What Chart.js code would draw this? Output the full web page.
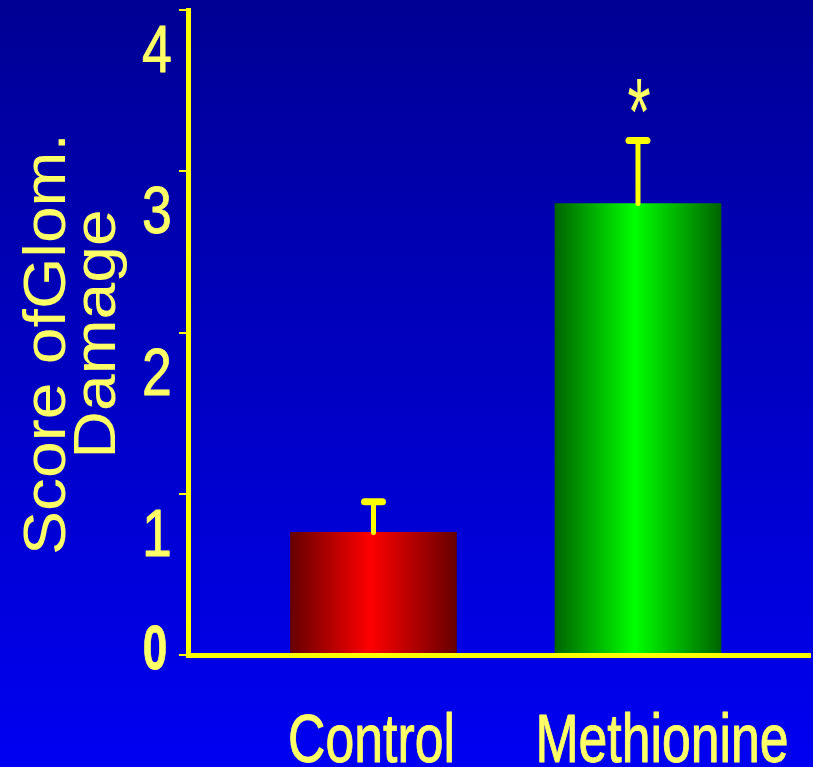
<!DOCTYPE html>
<html><head><meta charset="utf-8">
<script src="https://cdn.jsdelivr.net/npm/chart.js@4/dist/chart.umd.min.js"></script>
<style>html,body{margin:0;padding:0;background:#0000c0;overflow:hidden}#wrap{width:813px;height:767px;position:relative}</style>
</head><body><div id="wrap"><canvas id="c" width="813" height="767"></canvas></div>
<script>
// ---- data ----
const categories = ['Control', 'Methionine'];
const meanScores = [0.76, 2.80];
const errorUp = [0.19, 0.39];
const significant = [false, true];
const yTickValues = [0, 1, 2, 3, 4];
const yTitleLines = ['Score ofGlom.', 'Damage'];

// ---- styles ----
const TEXT = '#ffff66';
const AXIS = '#ffff00';
const FONT = '"Liberation Sans", Arial, sans-serif';
const barPalette = [
  ['#660000', '#ff0000'],
  ['#006400', '#00ff00']
];
const BAR_W = 166;
const catLabelShift = [-2, 24];

function barFill(context) {
  const chart = context.chart;
  const i = context.dataIndex;
  const pal = barPalette[i % barPalette.length];
  if (!chart.chartArea || !chart.scales.x) return pal[1];
  const cx = chart.scales.x.getPixelForValue(i + 1);
  const g = chart.ctx.createLinearGradient(cx - BAR_W / 2, 0, cx + BAR_W / 2, 0);
  g.addColorStop(0, pal[0]);
  g.addColorStop(0.48, pal[1]);
  g.addColorStop(1, pal[0]);
  return g;
}

const bgPlugin = {
  id: 'bg',
  beforeDraw(chart) {
    const { ctx, width, height } = chart;
    ctx.save();
    const g = ctx.createLinearGradient(0, 0, 0, height);
    g.addColorStop(0, 'rgb(0,0,148)');
    g.addColorStop(1, 'rgb(0,0,242)');
    ctx.fillStyle = g;
    ctx.fillRect(0, 0, width, height);
    ctx.restore();
  }
};

const errPlugin = {
  id: 'err',
  afterDatasetsDraw(chart) {
    const { ctx } = chart;
    const meta = chart.getDatasetMeta(0);
    const ys = chart.scales.y;
    ctx.save();
    ctx.strokeStyle = AXIS;
    ctx.lineCap = 'round';
    meta.data.forEach((bar, i) => {
      const x = bar.x;
      const yTop = ys.getPixelForValue(meanScores[i] + errorUp[i]);
      const yBar = ys.getPixelForValue(meanScores[i]);
      ctx.lineWidth = 5;
      ctx.beginPath(); ctx.moveTo(x, yBar); ctx.lineTo(x, yTop); ctx.stroke();
      ctx.lineWidth = 7;
      ctx.beginPath(); ctx.moveTo(x - 9, yTop); ctx.lineTo(x + 9, yTop); ctx.stroke();
      if (significant[i]) {
        ctx.fillStyle = TEXT;
        ctx.font = '100px ' + FONT;
        const m = ctx.measureText('*');
        const h = m.actualBoundingBoxAscent + m.actualBoundingBoxDescent;
        const w = m.actualBoundingBoxLeft + m.actualBoundingBoxRight;
        const sy = 34 / h, sx = 22 / w;
        const cy = yTop - 45;
        ctx.save();
        ctx.translate(x + 1, cy);
        ctx.scale(sx, sy);
        ctx.textAlign = 'left';
        ctx.textBaseline = 'alphabetic';
        const ox = -(m.actualBoundingBoxRight - m.actualBoundingBoxLeft) / 2;
        const oy = (m.actualBoundingBoxAscent - m.actualBoundingBoxDescent) / 2;
        ctx.fillText('*', ox, oy);
        ctx.restore();
      }
    });
    ctx.restore();
  }
};

function boldText(ctx, t, lw) {
  ctx.fillText(t, 0, 0);
  ctx.lineWidth = lw;
  ctx.lineJoin = 'round';
  ctx.strokeStyle = TEXT;
  ctx.strokeText(t, 0, 0);
}

const textPlugin = {
  id: 'texts',
  afterDraw(chart) {
    const { ctx } = chart;
    const ys = chart.scales.y;
    const meta = chart.getDatasetMeta(0);
    ctx.save();
    ctx.fillStyle = TEXT;
    ctx.textBaseline = 'alphabetic';
    ctx.textAlign = 'center';
    // y tick labels
    yTickValues.forEach(v => {
      const py = ys.getPixelForValue(v);
      ctx.save();
      if (v === 0) {
        ctx.font = 'bold 63px ' + FONT;
        ctx.translate(155, py + 14);
        ctx.scale(0.7, 1);
        boldText(ctx, String(v), 0.8);
      } else {
        ctx.font = '67px ' + FONT;
        ctx.translate(157, py + 62);
        ctx.scale(0.8, 1);
        boldText(ctx, String(v), 0.9);
      }
      ctx.restore();
    });
    // y title
    ctx.font = '66px ' + FONT;
    const tpos = [[65, 344], [115, 334]];
    yTitleLines.forEach((t, k) => {
      ctx.save();
      ctx.translate(tpos[k][0], tpos[k][1]);
      ctx.rotate(-Math.PI / 2);
      ctx.scale(1, 0.89);
      ctx.fillText(t, 0, 0);
      ctx.restore();
    });
    // category labels
    ctx.font = '69px ' + FONT;
    meta.data.forEach((bar, i) => {
      ctx.save();
      ctx.translate(bar.x + catLabelShift[i], 762);
      ctx.scale(0.75, 1);
      boldText(ctx, categories[i], 1.0);
      ctx.restore();
    });
    ctx.restore();
  }
};

new Chart(document.getElementById('c'), {
  type: 'bar',
  data: {
    datasets: [{
      data: categories.map((c, i) => ({ x: i + 1, y: meanScores[i] })),
      backgroundColor: barFill,
      borderWidth: 0,
      barThickness: BAR_W
    }]
  },
  options: {
    responsive: false,
    animation: false,
    devicePixelRatio: 1,
    layout: { padding: { left: 179, right: 3, top: 10, bottom: 112 } },
    plugins: { legend: { display: false }, tooltip: { enabled: false } },
    scales: {
      x: {
        type: 'linear', min: 0.2987, max: 2.6503, offset: false,
        grid: { display: false, drawTicks: false },
        ticks: { display: false },
        border: { color: AXIS, width: 5, z: 1 }
      },
      y: {
        min: 0, max: 4,
        ticks: { display: false, stepSize: 1 },
        grid: { drawOnChartArea: false, color: AXIS, tickLength: 9, lineWidth: 2 },
        border: { color: AXIS, width: 5, z: 1 }
      }
    }
  },
  plugins: [bgPlugin, errPlugin, textPlugin]
});
</script>
</body></html>
